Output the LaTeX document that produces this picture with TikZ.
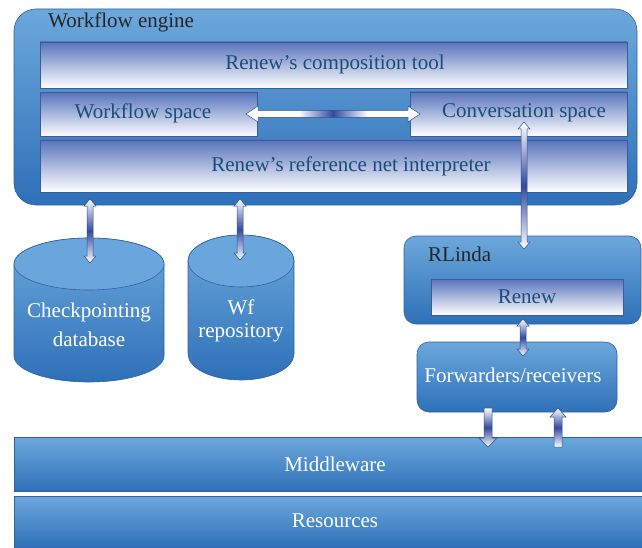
\documentclass[tikz,border=0pt]{standalone}
\usepackage{fontspec}
\setmainfont{Liberation Serif}
\usetikzlibrary{calc}
\definecolor{boxlight}{RGB}{108,168,220}
\definecolor{boxdark}{RGB}{46,112,184}
\definecolor{boxedge}{RGB}{52,96,160}
\definecolor{innertop}{RGB}{88,116,188}
\definecolor{inneredge}{RGB}{60,92,150}
\definecolor{innertext}{RGB}{28,76,120}
\definecolor{arrowblue}{RGB}{52,74,160}
\definecolor{arrowedge}{RGB}{44,82,140}
\definecolor{captop}{RGB}{104,166,220}
\pgfdeclarehorizontalshading{harrowshade}{100bp}{color(0bp)=(white); color(25bp)=(white); color(40bp)=(white); color(50bp)=(arrowblue); color(60bp)=(white); color(75bp)=(white); color(100bp)=(white)}
\tikzset{
  outerbox/.style={draw=boxedge, line width=0.6pt, top color=boxlight, bottom color=boxdark, rounded corners=#1},
  outerbox/.default=0pt,
  innerbox/.style={draw=inneredge, line width=0.6pt, top color=innertop, bottom color=white},
  innerlabel/.style={text=innertext, font=\fontsize{21}{23}\selectfont, inner sep=0pt},
  whitelabel/.style={text=white, font=\fontsize{21}{23}\selectfont, inner sep=0pt, align=center},
  darklabel/.style={text=black!85, font=\fontsize{21}{23}\selectfont, inner sep=0pt, anchor=base west},
  arrowbody/.style={draw=arrowedge, line width=0.5pt, line join=miter},
}
% vertical double arrow between two named points (top, bottom)
\newcommand{\vdarrow}[2]{%
  \path[arrowbody, top color=white, bottom color=white, middle color=arrowblue]
   let \p1=(#1), \p2=(#2) in
   (\x1,\y1) -- (\x1+6pt,\y1-7pt) -- (\x1+3pt,\y1-7pt) -- (\x1+3pt,\y2+7pt) -- (\x1+6pt,\y2+7pt)
   -- (\x1,\y2) -- (\x1-6pt,\y2+7pt) -- (\x1-3pt,\y2+7pt) -- (\x1-3pt,\y1-7pt) -- (\x1-6pt,\y1-7pt) -- cycle;}
% single arrow pointing down: (top) -> (tip)
\newcommand{\downarrowfat}[2]{%
  \path[arrowbody, top color=white, bottom color=white, middle color=arrowblue]
   let \p1=(#1), \p2=(#2) in
   (\x1-4pt,\y1) -- (\x1+4pt,\y1) -- (\x1+4pt,\y2+9pt) -- (\x1+9pt,\y2+9pt) -- (\x1,\y2)
   -- (\x1-9pt,\y2+9pt) -- (\x1-4pt,\y2+9pt) -- cycle;}
% single arrow pointing up: (tip) <- (bottom)
\newcommand{\uparrowfat}[2]{%
  \path[arrowbody, top color=white, bottom color=white, middle color=arrowblue]
   let \p1=(#1), \p2=(#2) in
   (\x1,\y1) -- (\x1+8pt,\y1-9pt) -- (\x1+4pt,\y1-9pt) -- (\x1+4pt,\y2) -- (\x1-4pt,\y2)
   -- (\x1-4pt,\y1-9pt) -- (\x1-8pt,\y1-9pt) -- cycle;}
% cylinder: left x, right x, top-cap center y, bottom-cap center y, ry  (pixel coords)
\newcommand{\cyl}[5]{%
  \path[draw=boxedge, line width=0.6pt, top color=boxlight, bottom color=boxdark]
    (#1,#3) -- (#1,#4) arc[start angle=180, end angle=360, x radius={(#2-#1)*1pt/2}, y radius=#5 pt]
    -- (#2,#3) arc[start angle=0, end angle=180, x radius={(#2-#1)*1pt/2}, y radius=#5 pt] -- cycle;
  \path[draw=boxedge, line width=0.6pt, fill=captop] ({(#1+#2)/2},#3) ellipse[x radius={(#2-#1)*1pt/2}, y radius=#5 pt];}
\begin{document}
\begin{tikzpicture}[x=1pt,y=-1pt]
\useasboundingbox (0,0) rectangle (642,548);

% Workflow engine
\node[outerbox=22pt, minimum width=623pt, minimum height=196pt, inner sep=0pt] (eng) at (325.5,107) {};
\node[darklabel] (englabel) at (48,28) {Workflow engine};
\node[innerbox, minimum width=587pt, minimum height=46pt, inner sep=0pt] (comp) at (333.5,65) {};
\node[innerlabel] (complabel) at (335,64) {Renew’s composition tool};
\node[innerbox, minimum width=217pt, minimum height=44pt, inner sep=0pt] (ws) at (148.5,114.5) {};
\node[innerlabel] (wslabel) at (143,113) {Workflow space};
\node[innerbox, minimum width=217pt, minimum height=44pt, inner sep=0pt] (cs) at (518.5,114) {};
\node[innerlabel] (cslabel) at (524,113) {Conversation space};
\node[innerbox, minimum width=587pt, minimum height=52pt, inner sep=0pt] (interp) at (333.5,166) {};
\node[innerlabel] (interplabel) at (351,166) {Renew’s reference net interpreter};

% horizontal double arrow workflow space <-> conversation space
\coordinate (hL) at (246,114);
\coordinate (hR) at (420,114);
\path[arrowbody, shading=harrowshade]
  let \p1=(hL), \p2=(hR) in
  (\x1,\y1) -- (\x1+12pt,\y1+8pt) -- (\x1+12pt,\y1+3.5pt) -- (\x2-12pt,\y1+3.5pt) -- (\x2-12pt,\y1+8pt)
  -- (\x2,\y1) -- (\x2-12pt,\y1-8pt) -- (\x2-12pt,\y1-3.5pt) -- (\x1+12pt,\y1-3.5pt) -- (\x1+12pt,\y1-8pt) -- cycle;

% cylinders
\cyl{14}{164}{264}{356}{26}
\node[whitelabel] (cp) at (89,325) {Checkpointing\\[6pt]database};
\cyl{188}{294}{261}{354}{26}
\node[whitelabel] (wf) at (241,321) {Wf\\repository};

% RLinda
\node[outerbox=12pt, minimum width=237pt, minimum height=88pt, inner sep=0pt] (rl) at (522.5,280) {};
\node[darklabel] (rllabel) at (428,261) {RLinda};
\node[innerbox, minimum width=192pt, minimum height=36pt, inner sep=0pt] (renew) at (527,297) {};
\node[innerlabel] (renewlabel) at (renew.center) {Renew};

% Forwarders/receivers
\node[outerbox=12pt, minimum width=200pt, minimum height=70pt, inner sep=0pt] (fw) at (517,377) {};
\node[whitelabel] (fwlabel) at (513,375) {Forwarders/receivers};

% Middleware and resources
\node[outerbox, minimum width=628pt, minimum height=54pt, inner sep=0pt] (mw) at (328,464.5) {};
\node[whitelabel] (mwlabel) at (335,464) {Middleware};
\node[outerbox, minimum width=628pt, minimum height=52pt, inner sep=0pt] (res) at (328,522) {};
\node[whitelabel] (reslabel) at (335,521) {Resources};

% vertical connectors
\coordinate (a1t) at (90,199);
\coordinate (a1b) at (90,263);
\vdarrow{a1t}{a1b}
\coordinate (a2t) at (240,199);
\coordinate (a2b) at (240,260);
\vdarrow{a2t}{a2b}
\coordinate (a3t) at (524,122);
\coordinate (a3b) at (524,249);
\vdarrow{a3t}{a3b}
\coordinate (a4t) at (523,319);
\coordinate (a4b) at (523,356);
\vdarrow{a4t}{a4b}
\coordinate (a5t) at (488,408);
\coordinate (a5b) at (488,447);
\downarrowfat{a5t}{a5b}
\coordinate (a6t) at (558,408);
\coordinate (a6b) at (558,447);
\uparrowfat{a6t}{a6b}
\end{tikzpicture}
\end{document}
